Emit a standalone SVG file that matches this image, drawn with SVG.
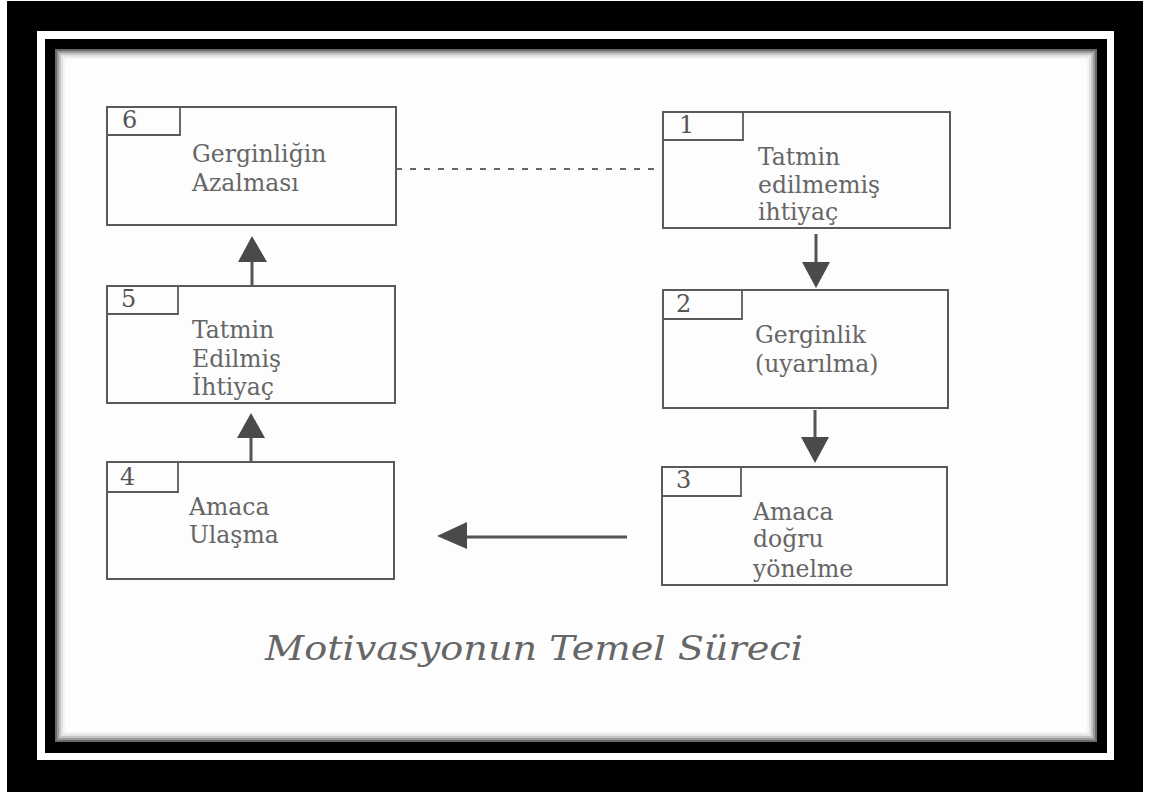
<svg xmlns="http://www.w3.org/2000/svg" width="1149" height="792" viewBox="0 0 1149 792">
<style>
.box{fill:none;stroke:#5a5a5a;stroke-width:2}
.tab{fill:none;stroke:#5a5a5a;stroke-width:1.8}
.t{font-family:"DejaVu Serif","Liberation Serif",serif;font-size:23.5px;fill:#666}
.n{font-family:"DejaVu Serif","Liberation Serif",serif;font-size:24px;fill:#555}
.ln{stroke:#555;stroke-width:3;fill:none}
.hd{fill:#4a4a4a}
.cap{font-family:"DejaVu Serif","Liberation Serif",serif;font-style:italic;font-size:34px;fill:#666}
</style>
<rect x="0" y="0" width="1149" height="792" fill="#fff"/>
<rect x="7" y="1" width="1136" height="791" fill="#000"/>
<rect x="37" y="31" width="1077" height="729" fill="#fff"/>
<rect x="45" y="39" width="1062" height="714" fill="#000"/>
<rect x="55" y="49" width="1042" height="693" fill="#fdfdfd"/>
<g id="shade" fill="none">
<rect x="56" y="50" width="1040" height="691" stroke="#6a6a6a" stroke-width="2"/>
<rect x="58" y="52" width="1036" height="687" stroke="#9a9a9a" stroke-width="2"/>
<rect x="60" y="54" width="1032" height="683" stroke="#c4c4c4" stroke-width="2"/>
<rect x="62" y="56" width="1028" height="679" stroke="#e2e2e2" stroke-width="2"/>
<rect x="64" y="58" width="1024" height="675" stroke="#f3f3f3" stroke-width="2"/>
</g>
<g id="connectors">
<line x1="396" y1="169" x2="661" y2="169" stroke="#666" stroke-width="2" stroke-dasharray="6 8"/>
<line class="ln" x1="252" y1="286" x2="252" y2="260"/>
<polygon class="hd" points="252,236 238,262 267,262"/>
<line class="ln" x1="251" y1="462" x2="251" y2="436"/>
<polygon class="hd" points="251,413 237,438 265,438"/>
<line class="ln" x1="816" y1="234" x2="816" y2="264"/>
<polygon class="hd" points="816,288 802,262 830,262"/>
<line class="ln" x1="815" y1="410" x2="815" y2="439"/>
<polygon class="hd" points="815,463 801,437 829,437"/>
<line class="ln" x1="627" y1="537" x2="465" y2="537"/>
<polygon class="hd" points="437,536 467,522 467,549"/>
</g>
<g id="node6">
<rect class="box" x="107" y="107" width="289" height="118"/>
<polyline class="tab" points="107,135 180,135 180,107"/>
<text class="n" x="122" y="128">6</text>
<text class="t" x="192" y="162">Gerginliğin</text>
<text class="t" x="192" y="191">Azalması</text>
</g>
<g id="node5">
<rect class="box" x="107" y="286" width="288" height="117"/>
<polyline class="tab" points="107,314 178,314 178,286"/>
<text class="n" x="121" y="307">5</text>
<text class="t" x="192" y="338">Tatmin</text>
<text class="t" x="192" y="367">Edilmiş</text>
<text class="t" x="192" y="395">İhtiyaç</text>
</g>
<g id="node4">
<rect class="box" x="107" y="462" width="287" height="117"/>
<polyline class="tab" points="107,492 178,492 178,462"/>
<text class="n" x="120" y="485">4</text>
<text class="t" x="189" y="515">Amaca</text>
<text class="t" x="189" y="543">Ulaşma</text>
</g>
<g id="node1">
<rect class="box" x="663" y="112" width="287" height="116"/>
<polyline class="tab" points="663,140 743,140 743,112"/>
<text class="n" x="679" y="133">1</text>
<text class="t" x="758" y="165">Tatmin</text>
<text class="t" x="758" y="193">edilmemiş</text>
<text class="t" x="758" y="220">ihtiyaç</text>
</g>
<g id="node2">
<rect class="box" x="663" y="290" width="285" height="118"/>
<polyline class="tab" points="663,319 742,319 742,290"/>
<text class="n" x="676" y="312">2</text>
<text class="t" x="755" y="343">Gerginlik</text>
<text class="t" x="755" y="372">(uyarılma)</text>
</g>
<g id="node3">
<rect class="box" x="662" y="467" width="285" height="118"/>
<polyline class="tab" points="662,496 741,496 741,467"/>
<text class="n" x="676" y="488">3</text>
<text class="t" x="753" y="520">Amaca</text>
<text class="t" x="753" y="547">doğru</text>
<text class="t" x="753" y="577">yönelme</text>
</g>
<text class="cap" x="265" y="660" textLength="538" lengthAdjust="spacingAndGlyphs">Motivasyonun Temel Süreci</text>
</svg>
